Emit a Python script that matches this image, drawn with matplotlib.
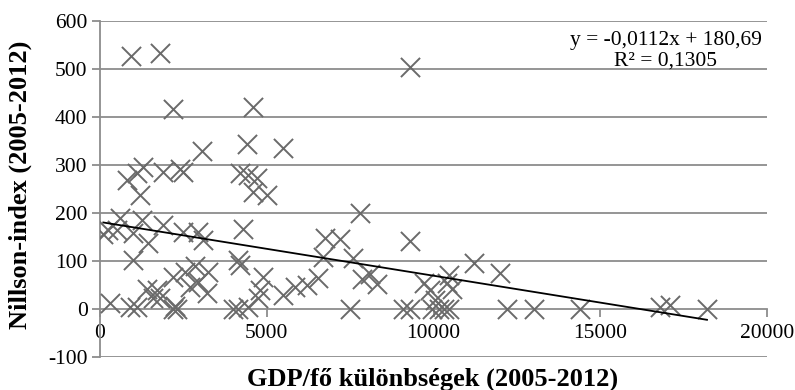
import numpy as np
import matplotlib.pyplot as plt

plt.rcParams['font.family'] = ['Liberation Serif', 'DejaVu Serif']
plt.rcParams['axes.unicode_minus'] = False

# GDP/fő különbség vs. Nillson-index, 2005-2012
gdp_diff = [
    920, 1800, 9300, 2200, 4600, 4400, 3050, 5500,
    1300, 1900, 2400, 2500, 800, 1100, 1200,
    4200, 4450, 4700, 4600, 5000,
    600, 250, 500, 100, 1250, 1000, 1450, 1900, 2500, 2950, 3100,
    4300, 6750, 7200, 7800, 9300, 6700, 7600,
    1000, 4150, 4200, 11200,
    300, 900, 1100, 1400, 1700, 1800, 1600, 2200, 2250, 2300, 2200,
    2550, 2850, 2700, 2950, 3250, 3200,
    4900, 4800, 4750, 5500, 5850, 4000, 4150, 4450, 6200, 6550, 7500,
    7850, 8100, 8300, 9700, 9900, 10450, 10400, 10550, 10050,
    9100, 9300, 9950, 10150, 10300, 10450,
    12000, 12200, 13000, 14400, 16800, 17100, 18200,
]
nillson = [
    526, 533, 504, 417, 420, 343, 328, 334,
    296, 285, 292, 285, 268, 282, 237,
    282, 278, 272, 244, 237,
    188, 164, 164, 155, 185, 157, 136, 174, 160, 160, 143,
    167, 147, 145, 199, 140, 108, 105,
    101, 101, 91, 95,
    11, 4, 4, 42, 39, 22, 22, 0, 5, 0, 65,
    76, 88, 46, 55, 77, 32,
    67, 39, 22, 29, 46, 0, 0, 4, 49, 63, 0,
    62, 72, 52, 53, 39, 70, 53, 42, 18,
    0, 0, 0, 0, 0, 0,
    74, 0, 0, 0, 4, 8, 0,
]

# linear trend as reported
slope = -0.0112
intercept = 180.69
r_squared = 0.1305

x_ticks = [0, 5000, 10000, 15000, 20000]
y_ticks = [-100, 0, 100, 200, 300, 400, 500, 600]

grid_col = '#8c8c8c'
W, H = 795, 390

fig = plt.figure(figsize=(7.95, 3.9), dpi=100)
ax = fig.add_axes([0.1258, 0.0854, 0.8390, 0.8616])

ax.set_xlim(0, 20000)
ax.set_ylim(-100, 600)

for yv in y_ticks:
    if yv != 0:
        ax.axhline(yv, color=grid_col, lw=1.3, zorder=1)

ax.scatter(gdp_diff, nillson, marker='x', s=190, linewidths=1.4,
           color='#6a6a6a', zorder=3)

xs = np.array([min(gdp_diff), max(gdp_diff)])
ax.plot(xs, slope * xs + intercept, color='black', lw=1.3, zorder=4)

for side in ['top', 'right']:
    ax.spines[side].set_visible(False)
ax.spines['bottom'].set_position(('data', 0))
ax.spines['bottom'].set_color(grid_col)
ax.spines['bottom'].set_linewidth(1.3)
ax.spines['left'].set_color(grid_col)
ax.spines['left'].set_linewidth(1.3)

ax.set_xticks(x_ticks)
ax.set_yticks(y_ticks)
ax.tick_params(axis='both', direction='out', length=6, width=1.3,
               color=grid_col, labelsize=15.5, labelcolor='black')
ax.tick_params(axis='x', pad=5)
ax.tick_params(axis='y', pad=3)

# trendline equation, decimal comma
eq_text = f'y = {slope:.4f}x + {intercept:.2f}'.replace('.', ',')
r2_text = f'R² = {r_squared:.4f}'.replace('.', ',')
fig.text(666 / W, 1 - 40 / H, eq_text, ha='center', va='center', fontsize=15.5)
fig.text(666 / W, 1 - 61 / H, r2_text, ha='center', va='center', fontsize=15.5)

fig.text(433 / W, 1 - 379 / H, 'GDP/fő különbségek (2005-2012)', ha='center', va='center',
         fontsize=19, fontweight='bold')
fig.text(20 / W, 1 - 185 / H, 'Nillson-index (2005-2012)', ha='center', va='center',
         rotation=90, fontsize=19, fontweight='bold')

fig.savefig('out.png', dpi=100)
